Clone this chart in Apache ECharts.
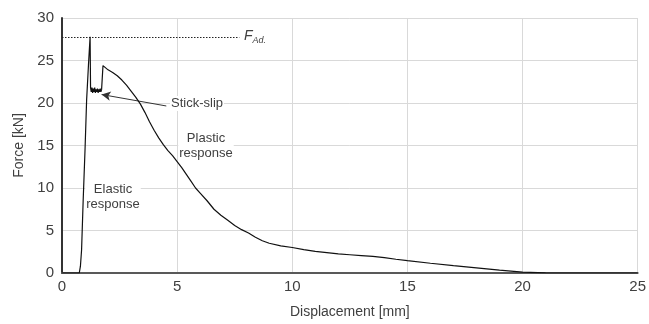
<!DOCTYPE html>
<html><head><meta charset="utf-8">
<script src="https://cdn.jsdelivr.net/npm/echarts@6/dist/echarts.min.js"></script>
<style>html,body{margin:0;padding:0;background:#fff}#c{width:649px;height:324px}</style>
</head><body><div id="c"></div>
<script>
const xTicks = [0, 5, 10, 15, 20, 25];
const yTicks = [0, 5, 10, 15, 20, 25, 30];
const displacement = [0, 0.75, 0.8, 0.85, 0.92, 1.0, 1.07, 1.15, 1.22, 1.24, 1.27, 1.3, 1.33, 1.36, 1.39, 1.42, 1.45, 1.48, 1.51, 1.54, 1.57, 1.6, 1.63, 1.66, 1.69, 1.72, 1.76, 1.78, 2.0, 2.2, 2.4, 2.6, 2.8, 3.0, 3.2, 3.4, 3.6, 3.8, 4.0, 4.2, 4.4, 4.6, 4.8, 5.0, 5.2, 5.4, 5.6, 5.8, 6.0, 6.3, 6.6, 6.9, 7.2, 7.5, 7.8, 8.1, 8.4, 8.7, 9.0, 9.5, 10, 10.5, 11, 11.5, 12, 12.5, 13, 13.5, 14, 14.5, 15, 16, 17, 18, 19, 20, 21, 22, 25];
const force = [0, 0, 0.8, 2.7, 8.6, 14.5, 20.4, 24.5, 27.8, 21.8, 21.3, 21.8, 21.2, 21.7, 21.3, 21.8, 21.2, 21.6, 21.3, 21.7, 21.2, 21.6, 21.3, 21.7, 21.3, 21.6, 21.4, 24.4, 23.9, 23.6, 23.2, 22.7, 22.1, 21.4, 20.7, 19.9, 18.9, 17.8, 16.8, 15.9, 15.1, 14.4, 13.8, 13.1, 12.4, 11.6, 10.8, 10.0, 9.4, 8.5, 7.5, 6.8, 6.2, 5.6, 5.1, 4.7, 4.2, 3.8, 3.5, 3.2, 3.0, 2.75, 2.55, 2.4, 2.25, 2.15, 2.05, 1.95, 1.8, 1.62, 1.45, 1.15, 0.87, 0.6, 0.33, 0.1, 0.02, 0, 0];
const adhesionForce = 27.7;
const adhesionLineEnd = 7.7;
const arrowFrom = [4.53, 19.65];
const arrowTo = [1.72, 21.0];

const chart = echarts.init(document.getElementById('c'));
const txt = '#404040';
const lbl = {fontSize: 13, lineHeight: 15, fontFamily: 'Liberation Sans', fill: txt, backgroundColor: '#fff', padding: [0, 1]};
chart.setOption({
  animation: false,
  grid: {left: 62, right: 9, top: 18, bottom: 51},
  xAxis: {
    type: 'value', min: xTicks[0], max: xTicks[xTicks.length-1], interval: 5,
    name: 'Displacement [mm]', nameLocation: 'middle', nameGap: 32,
    nameTextStyle: {color: txt, fontSize: 14, fontFamily: 'Liberation Sans'},
    axisLine: {lineStyle: {color: '#595959', width: 2}},
    axisTick: {show: false},
    axisLabel: {color: txt, fontSize: 15, fontFamily: 'Liberation Sans', margin: 6},
    splitLine: {show: true, lineStyle: {color: '#d9d9d9', width: 1}}
  },
  yAxis: {
    type: 'value', min: yTicks[0], max: yTicks[yTicks.length-1], interval: 5,
    name: 'Force [kN]', nameLocation: 'middle', nameGap: 36,
    nameTextStyle: {color: txt, fontSize: 14, fontFamily: 'Liberation Sans'},
    axisLine: {show: true, lineStyle: {color: '#333', width: 2}},
    axisTick: {show: false},
    axisLabel: {color: txt, fontSize: 15, fontFamily: 'Liberation Sans', margin: 8},
    splitLine: {show: true, lineStyle: {color: '#d9d9d9', width: 1}}
  },
  series: [{
    type: 'line',
    data: displacement.map((d, i) => [d, force[i]]),
    showSymbol: false,
    lineStyle: {color: '#111', width: 1.2},
    z: 5,
    markLine: {
      silent: true, animation: false,
      symbol: ['none', 'none'],
      label: {show: false},
      data: [
        [{coord: [0, adhesionForce], lineStyle: {type: [1.5, 1.5], color: '#222', width: 1}},
         {coord: [adhesionLineEnd, adhesionForce]}],
        [{coord: arrowFrom, symbol: 'none', lineStyle: {type: 'solid', color: '#333', width: 1}},
         {coord: arrowTo, symbol: 'arrow', symbolSize: [7, 9]}]
      ]
    }
  }],
  graphic: [
    {type: 'text', left: 244, top: 29, z: 10, style: {
      text: '{i|F}{s|Ad.}', fill: txt,
      rich: {i: {fontStyle: 'italic', fontSize: 14, fontFamily: 'Liberation Sans', fill: txt},
             s: {fontStyle: 'italic', fontSize: 9, fontFamily: 'Liberation Sans', fill: txt, padding: [8, 0, 0, 0]}}}},
    {type: 'text', left: 170, top: 96, z: 10, style: Object.assign({text: 'Stick-slip'}, lbl)},
    {type: 'text', x: 206, y: 131, z: 10, style: Object.assign({text: 'Plastic\nresponse', textAlign: 'center'}, lbl)},
    {type: 'text', x: 113, y: 182, z: 10, style: Object.assign({text: 'Elastic\nresponse', textAlign: 'center'}, lbl)}
  ]
});
</script></body></html>
